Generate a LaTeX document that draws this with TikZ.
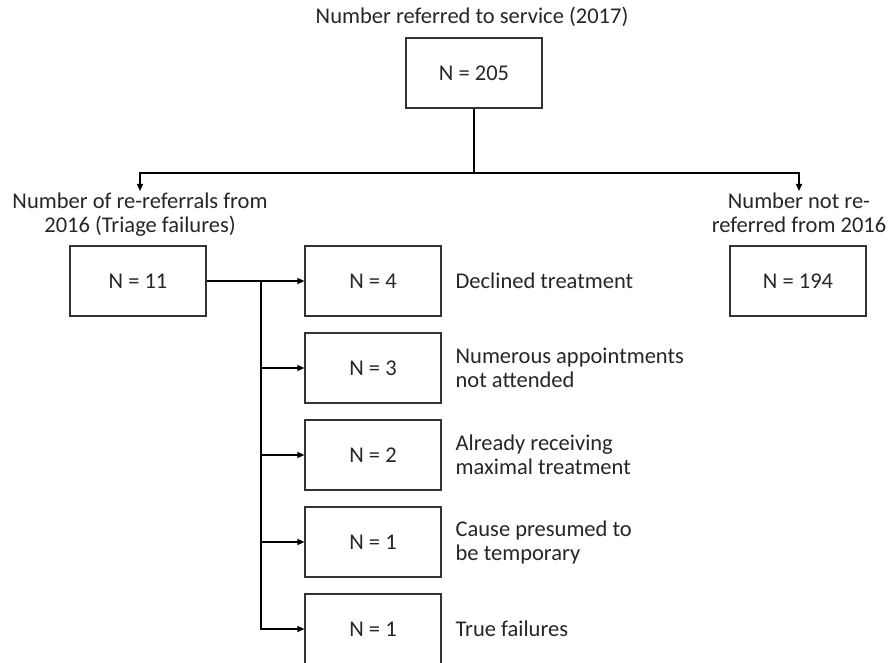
\documentclass[tikz,border=0pt]{standalone}
\usepackage{fontspec}
\setmainfont{Carlito}
\usetikzlibrary{arrows.meta}
\tikzset{
    flow/.style={
        x=1pt, y=-1pt,
        font=\fontsize{22.5}{24}\selectfont,
        box/.style={draw=black!80, line width=1.2pt, minimum width=136pt, minimum height=70pt, inner sep=0pt},
        head/.style={align=center, inner sep=1pt, text=black!85},
        why/.style={align=left, anchor=west, inner sep=0pt, text=black!85},
        arr/.style={-{Triangle[length=7pt, width=6pt]}, line width=1.3pt},
        every path/.style={line width=1.3pt},
    },
}
\begin{document}
\begin{tikzpicture}[flow]
            \useasboundingbox (0,0) rectangle (892,663);
            \node[head] (title) at (472,17) {Number referred to service (2017)};
            \node[box, text=black!85] (all) at (474,73) {N = 205};

            \node[head, anchor=north] (lhead) at (140,191) {Number of re-referrals from\\2016 (Triage failures)};
            \node[head, anchor=north] (rhead) at (799,191) {Number not re-\\referred from 2016};
            \node[box, text=black!85] (rerf)    at (138,281) {N = 11};
            \node[box, text=black!85] (notrerf) at (798,281) {N = 194};

            \node[box, text=black!85] (s1) at (373,281) {N = 4};
            \node[box, text=black!85] (s2) at (373,368) {N = 3};
            \node[box, text=black!85] (s3) at (373,455) {N = 2};
            \node[box, text=black!85] (s4) at (373,542) {N = 1};
            \node[box, text=black!85] (s5) at (373,629) {N = 1};

            \node[why] (w1) at (455,281) {Declined treatment};
            \node[why] (w2) at (455,368) {Numerous appointments\\not attended};
            \node[why] (w3) at (455,455) {Already receiving\\maximal treatment};
            \node[why] (w4) at (455,542) {Cause presumed to\\be temporary};
            \node[why] (w5) at (455,629) {True failures};

            \coordinate (split) at (474,173);
            \draw (all.south) -- (split);
            \draw[arr] (split) -| (lhead.north);
            \draw[arr] (split) -| (rhead.north);

            \coordinate (branch) at (261,281);
            \draw[arr] (rerf.east) -- (s1.west);
            \draw (branch) -- (261,629);
            \foreach \k in {2,...,5}
            \draw[arr] (branch) |- (s\k.west);
        \end{tikzpicture}
\end{document}
